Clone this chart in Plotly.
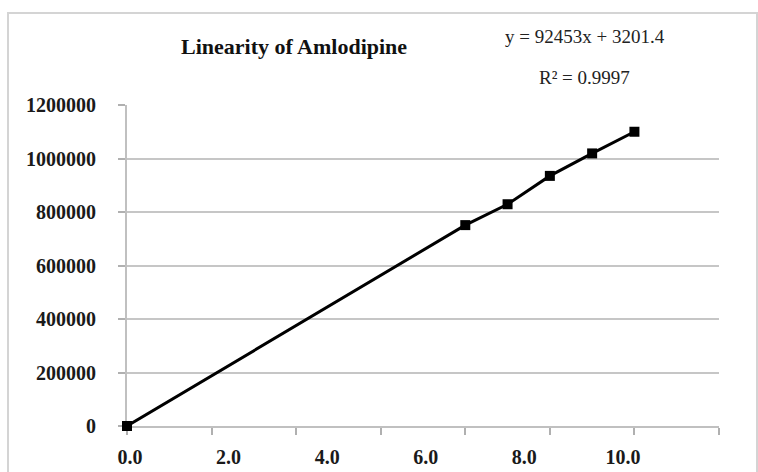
import plotly.graph_objects as go

# Data (concentration vs peak area)
conc = [0, 8, 9, 10, 11, 12]
area = [0, 751000, 829000, 935000, 1019000, 1100000]

y_ticks = [0, 200000, 400000, 600000, 800000, 1000000, 1200000]
y_ticktext = ["0", "200000", "400000", "600000", "800000", "1000000", "1200000"]
x_label_vals = [0, 2, 4, 6, 8, 10]
x_label_text = ["0.0", "2.0", "4.0", "6.0", "8.0", "10.0"]
x_tick_vals = [0, 2, 4, 6, 8, 10, 12, 14]

title_text = "Linearity of Amlodipine"
eq_text = "y = 92453x + 3201.4"
r2_text = "R² = 0.9997"

serif = "Liberation Serif, Times New Roman, serif"
grid_col = "#c6c6c6"

fig = go.Figure()
fig.add_trace(go.Scatter(
    x=conc, y=area, mode="lines+markers",
    line=dict(color="black", width=3),
    marker=dict(symbol="square", size=10, color="black"),
    cliponaxis=False, showlegend=False,
))
# helper (empty) trace so the label axis is drawn
fig.add_trace(go.Scatter(x=[], y=[], xaxis="x2", yaxis="y", showlegend=False))

fig.update_layout(
    width=758, height=472,
    margin=dict(l=127, r=39, t=105, b=46, autoexpand=False),
    paper_bgcolor="white", plot_bgcolor="white",
    xaxis=dict(
        range=[0, 14], tickvals=x_tick_vals, showticklabels=False,
        ticks="outside", ticklen=7, tickcolor="#b0b0b0", tickwidth=1.5,
        showline=True, linecolor="#c0c0c0", linewidth=2, automargin=False,
        showgrid=False, zeroline=False, layer="below traces",
    ),
    xaxis2=dict(
        overlaying="x", side="bottom", anchor="y",
        range=[-0.06, 11.95], tickvals=x_label_vals, ticktext=x_label_text,
        ticks="", showline=False, showgrid=False, zeroline=False,
        ticklabelstandoff=17, layer="below traces", automargin=False,
        tickfont=dict(family=serif, size=20, color="#1a1a1a", weight="bold"),
    ),
    yaxis=dict(
        range=[0, 1200000], tickvals=y_ticks, ticktext=y_ticktext,
        ticks="outside", ticklen=7, tickcolor="#b0b0b0", tickwidth=1.5,
        showline=True, linecolor="#c0c0c0", linewidth=2, automargin=False,
        showgrid=True, gridcolor=grid_col, gridwidth=1.5,
        zeroline=False, ticklabelstandoff=18, layer="below traces",
        tickfont=dict(family=serif, size=20, color="#1a1a1a", weight="bold"),
    ),
    shapes=[dict(type="rect", xref="paper", yref="paper",
                 x0=(8 - 127) / 592, x1=(757 - 127) / 592,
                 y0=-0.5, y1=1 + (105 - 13) / 321,
                 line=dict(color="#d4d4d4", width=2), fillcolor="rgba(0,0,0,0)",
                 layer="below")],
    annotations=[
        dict(text=title_text, xref="paper", yref="paper",
             x=(294 - 127) / 592, y=1 + (105 - 47) / 321,
             xanchor="center", yanchor="middle", showarrow=False,
             font=dict(family=serif, size=22, color="#111111", weight="bold")),
        dict(text=eq_text, xref="paper", yref="paper",
             x=(585 - 127) / 592, y=1 + (105 - 36) / 321,
             xanchor="center", yanchor="middle", showarrow=False,
             font=dict(family=serif, size=19, color="#222222")),
        dict(text=r2_text, xref="paper", yref="paper",
             x=(584 - 127) / 592, y=1 + (105 - 77) / 321,
             xanchor="center", yanchor="middle", showarrow=False,
             font=dict(family=serif, size=19, color="#222222")),
    ],
)

fig.write_html("out.html")
